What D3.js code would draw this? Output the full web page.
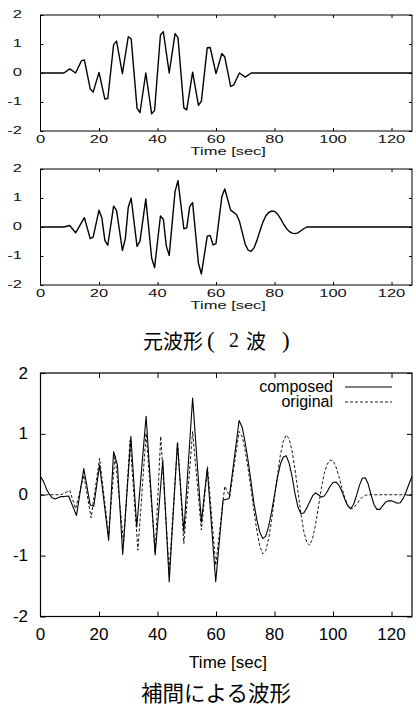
<!DOCTYPE html>
<html>
<head>
<meta charset="utf-8">
<script src="https://cdn.jsdelivr.net/npm/d3@7"></script>
<style>
  body { margin: 0; background: #fff; }
  svg { display: block; }
</style>
</head>
<body>
<script>
var w = 416
var h = 706

// axis ticks
var xTicks = [0, 20, 40, 60, 80, 100, 120]
var yTicks = [-2, -1, 0, 1, 2]

// wave 1 (top panel)
var wave1T = [0, 8, 10, 12, 14, 15, 17, 18, 20, 22, 23, 25, 26, 28, 30, 31, 33, 34, 36, 38, 39,
  41, 42, 44, 46, 47, 49, 50, 52, 54, 55, 57, 58, 60, 62, 63, 65, 66, 68, 70, 72, 127]
var wave1V = [0, 0, 0.14, 0, 0.42, 0.45, -0.55, -0.66, 0.02, -0.9, -0.88, 0.98, 1.1, -0.02, 1.25, 1.18, -1.21, -1.37, 0, -1.41, -1.29,
  1.31, 1.42, 0, 1.36, 1.22, -1.2, -1.27, 0.03, -1.12, -0.97, 0.87, 0.88, -0.02, 0.67, 0.55, -0.46, -0.42, 0, -0.14, 0, 0]

// wave 2 (middle panel)
var wave2T = [0, 8, 10, 12, 15, 17, 18, 20, 21, 22, 23, 25, 26, 28, 29, 30, 31, 33, 34, 36, 38, 39,
  41, 42, 43, 44, 46, 47, 49, 50, 51, 52, 54, 55, 57, 58, 59, 60, 62, 63, 65, 67,
  68, 69, 70, 71, 72, 73, 74, 75, 76, 77, 78, 79, 80, 81, 82, 83, 84, 85, 86, 87, 88, 89, 90, 91, 127]
var wave2V = [0, 0, 0.05, -0.2, 0.32, -0.4, -0.35, 0.58, 0.3, -0.46, -0.63, 0.72, 0.57, -0.81, -0.4, 0.68, 0.99, -0.67, -0.49, 0.97, -1.07, -1.4,
  0.38, 0.27, -0.65, -0.98, 1.22, 1.6, -0.06, -0.03, 0.7, 0.84, -1.26, -1.62, -0.32, -0.29, -0.62, -0.57, 1.05, 1.31, 0.58, 0.43,
  0.2, -0.2, -0.6, -0.8, -0.84, -0.72, -0.46, -0.14, 0.16, 0.38, 0.5, 0.55, 0.54, 0.45, 0.3, 0.12, -0.04, -0.15, -0.21, -0.23, -0.2, -0.13, -0.06, 0, 0]

// composed (bottom panel, solid)
var composedT = [0, 1, 2, 3, 4, 5, 6, 7, 8, 9.6, 12.3, 14.8, 17, 18.2, 20.2, 23.3, 25, 26.3, 28.1, 30.9, 32.9, 36.1, 39.2,
  41.8, 44, 46.8, 49, 52, 55, 57, 59.9, 62.4, 64.5, 67.9,
  69, 70, 71, 72, 73, 74, 75, 76, 77, 78, 79, 80, 81, 82, 83, 84, 85, 86, 87, 88, 89, 90, 91, 92, 93, 94, 95, 96, 97, 98, 99,
  100, 101, 102, 103, 104, 105, 106, 107, 108, 109, 110, 111, 112, 113, 114, 115, 116, 117, 118, 119, 120, 121, 122, 123, 124, 125, 126, 127]
var composedV = [0.3, 0.22, 0.1, 0.01, -0.05, -0.07, -0.05, -0.03, -0.03, -0.02, -0.34, 0.43, -0.17, -0.19, 0.49, -0.75, 0.71, 0.49, -0.98, 0.96, -0.53, 1.29, -0.99,
  0.57, -1.43, 0.85, -0.61, 1.59, -0.45, 0.43, -1.43, -0.09, -0.06, 1.22,
  1.1, 0.85, 0.55, 0.2, -0.15, -0.42, -0.62, -0.72, -0.68, -0.52, -0.28, 0, 0.28, 0.5, 0.62, 0.64, 0.52, 0.3, 0.02, -0.2, -0.31, -0.3, -0.22, -0.12, -0.02, 0.03, 0, -0.04, -0.02, 0.05, 0.14,
  0.2, 0.21, 0.16, 0.06, -0.07, -0.18, -0.23, -0.16, -0.02, 0.15, 0.27, 0.28, 0.18, 0, -0.16, -0.24, -0.24, -0.18, -0.12, -0.1, -0.1, -0.12, -0.14, -0.13, -0.06, 0.05, 0.18, 0.3]

// original (bottom panel, dashed)
var originalT = [0, 7, 10, 12, 14.8, 17.3, 20.2, 23.3, 25.5, 28.4, 30.6, 33.3, 36.1, 39.2, 41.1, 44, 46.9, 49, 52, 55, 57.1, 59.9, 63, 64.7, 67.9,
  69, 70, 71, 72, 73, 74, 75, 76, 77, 78, 79, 80, 81, 82, 83, 84, 85, 86, 87, 88, 89, 90, 91, 92, 93, 94, 95, 96, 97, 98, 99,
  100, 101, 102, 103, 104, 105, 106, 107, 108, 109, 110, 111, 112, 127]
var originalV = [0, 0, 0.07, -0.23, 0.32, -0.38, 0.6, -0.66, 0.65, -0.8, 0.89, -0.91, 1.01, -0.95, 0.96, -1.25, 0.87, -0.8, 1.04, -0.58, 0.46, -1.16, 0.14, -0.03, 1.04,
  0.95, 0.72, 0.42, 0.08, -0.28, -0.6, -0.85, -0.97, -0.92, -0.72, -0.42, -0.05, 0.32, 0.65, 0.88, 0.98, 0.92, 0.72, 0.42, 0.06, -0.3, -0.6, -0.78, -0.83, -0.72, -0.5, -0.2, 0.1, 0.35, 0.5, 0.57,
  0.56, 0.46, 0.3, 0.12, -0.05, -0.17, -0.23, -0.22, -0.16, -0.09, -0.04, -0.01, 0, 0]

var svg = d3.select("body")
            .append("svg")
            .attr("width", w)
            .attr("height", h)

var x = d3.scaleLinear().domain([0, 127]).range([40.5, 412])

function zip(ts, vs) {
  return ts.map(function(t, i) { return [t, vs[i]] })
}

// small stretched text like the gnuplot panels
function wideText(g, str, tx, ty, anchor) {
  g.append("text")
    .text(str)
    .attr("transform", "translate(" + tx + "," + ty + ") scale(1.6,1)")
    .attr("text-anchor", anchor)
    .attr("dominant-baseline", "central")
    .attr("font-family", "Liberation Sans, Arial, sans-serif")
    .attr("font-size", "10.3px")
    .attr("fill", "#111")
}

function frame(g, y, top, bottom, tl, sw) {
  var left = x.range()[0], right = x.range()[1]
  g.append("g").attr("transform", "translate(0," + bottom + ")")
    .call(d3.axisBottom(x).tickValues(xTicks.slice(1)).tickSize(-tl).tickFormat(""))
  g.append("g").attr("transform", "translate(0," + top + ")")
    .call(d3.axisTop(x).tickValues(xTicks.slice(1)).tickSize(-tl).tickFormat(""))
  g.append("g").attr("transform", "translate(" + left + ",0)")
    .call(d3.axisLeft(y).tickValues(yTicks).tickSize(-tl).tickFormat(""))
  g.append("g").attr("transform", "translate(" + right + ",0)")
    .call(d3.axisRight(y).tickValues(yTicks).tickSize(-tl).tickFormat(""))
  g.selectAll(".domain").remove()
  g.selectAll(".tick line").attr("stroke", "#000").attr("stroke-width", 1)
  g.append("rect")
    .attr("x", left).attr("y", top)
    .attr("width", right - left).attr("height", bottom - top)
    .attr("fill", "none").attr("stroke", "#000").attr("stroke-width", sw)
}

// top two panels
function smallPanel(top, bottom, ts, vs) {
  var g = svg.append("g")
  var y = d3.scaleLinear().domain([-2, 2]).range([bottom, top])
  var line = d3.line().x(function(d) { return x(d[0]) }).y(function(d) { return y(d[1]) })

  g.append("path")
    .datum(zip(ts, vs))
    .attr("d", line)
    .attr("fill", "none")
    .attr("stroke", "#000")
    .attr("stroke-width", 1.4)
    .attr("stroke-linejoin", "round")

  frame(g, y, top, bottom, 3, 1)

  yTicks.forEach(function(t) { wideText(g, String(t), 22, y(t), "end") })
  xTicks.forEach(function(t) { wideText(g, String(t), x(t), bottom + 9, "middle") })
  wideText(g, "Time [sec]", (x.range()[0] + x.range()[1]) / 2 + 2, bottom + 20.5, "middle")
}

smallPanel(15, 131, wave1T, wave1V)
smallPanel(169, 285, wave2T, wave2V)

// caption 1
var cap = svg.append("text")
  .attr("y", 340)
  .attr("dominant-baseline", "central")
  .attr("font-family", "Noto Sans CJK JP")
  .attr("font-size", "20px")
cap.append("tspan").attr("x", 143).text("元波形")
cap.append("tspan").attr("x", 207).attr("font-family", "Liberation Serif").attr("font-size", "23px").text("(")
cap.append("tspan").attr("x", 229).attr("font-family", "Liberation Serif").attr("font-size", "20px").text("2")
cap.append("tspan").attr("x", 246).text("波")
cap.append("tspan").attr("x", 282).attr("font-family", "Liberation Serif").attr("font-size", "23px").text(")")

// bottom panel
var bTop = 373, bBottom = 616.5
var yb = d3.scaleLinear().domain([-2, 2]).range([bBottom, bTop])
var gb = svg.append("g")
var lineB = d3.line().x(function(d) { return x(d[0]) }).y(function(d) { return yb(d[1]) })

gb.append("path")
  .datum(zip(originalT, originalV))
  .attr("d", lineB)
  .attr("fill", "none")
  .attr("stroke", "#000")
  .attr("stroke-width", 0.9)
  .attr("stroke-dasharray", "3,2")

gb.append("path")
  .datum(zip(composedT, composedV))
  .attr("d", lineB)
  .attr("fill", "none")
  .attr("stroke", "#000")
  .attr("stroke-width", 1.1)
  .attr("stroke-linejoin", "round")

frame(gb, yb, bTop, bBottom, 5, 1.2)

var fontB = "Liberation Sans, Arial, sans-serif"
gb.selectAll(".ylab").data(yTicks).enter().append("text")
  .attr("x", 28).attr("y", function(d) { return yb(d) })
  .attr("text-anchor", "end").attr("dominant-baseline", "central")
  .attr("font-family", fontB).attr("font-size", "17px")
  .text(function(d) { return d })

gb.selectAll(".xlab").data(xTicks).enter().append("text")
  .attr("x", function(d) { return x(d) }).attr("y", 634)
  .attr("text-anchor", "middle").attr("dominant-baseline", "central")
  .attr("font-family", fontB).attr("font-size", "17px")
  .text(function(d) { return d })

gb.append("text")
  .attr("x", 228).attr("y", 662)
  .attr("text-anchor", "middle").attr("dominant-baseline", "central")
  .attr("font-family", fontB).attr("font-size", "17px")
  .text("Time [sec]")

// legend
var legend = [["composed", null, 386], ["original", "3,2", 401]]
legend.forEach(function(l) {
  gb.append("text")
    .attr("x", 333).attr("y", l[2])
    .attr("text-anchor", "end").attr("dominant-baseline", "central")
    .attr("font-family", fontB).attr("font-size", "16px")
    .text(l[0])
  gb.append("line")
    .attr("x1", 345).attr("x2", 392)
    .attr("y1", l[2] + 1).attr("y2", l[2] + 1)
    .attr("stroke", l[1] ? "#000" : "#555")
    .attr("stroke-width", l[1] ? 0.9 : 1.6)
    .attr("stroke-dasharray", l[1])
})

// caption 2
svg.append("text")
  .attr("x", 216).attr("y", 691)
  .attr("text-anchor", "middle")
  .attr("dominant-baseline", "central")
  .attr("font-family", "Noto Sans CJK JP")
  .attr("font-size", "21.5px")
  .text("補間による波形")
</script>
</body>
</html>
